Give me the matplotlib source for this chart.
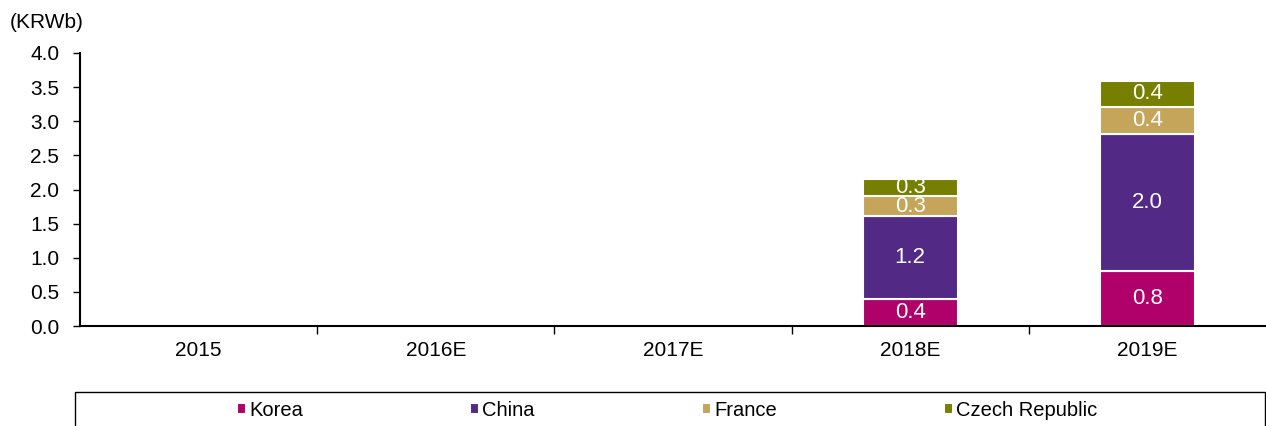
import numpy as np
import matplotlib
matplotlib.use("Agg")
import matplotlib.pyplot as plt
from matplotlib.patches import Rectangle

plt.rcParams["font.family"] = ["Liberation Sans", "DejaVu Sans"]
plt.rcParams["font.size"] = 15

# data (KRWb)
years = ["2015", "2016E", "2017E", "2018E", "2019E"]
korea = [0, 0, 0, 0.40, 0.80]
china = [0, 0, 0, 1.21, 2.02]
france = [0, 0, 0, 0.29, 0.39]
czech = [0, 0, 0, 0.26, 0.38]

series = [("Korea", korea, "#B0006A"),
          ("China", china, "#532986"),
          ("France", france, "#C4A55A"),
          ("Czech Republic", czech, "#767F00")]

fig = plt.figure(figsize=(12.66, 4.26), dpi=100)
ax = fig.add_axes([80/1266, 1-326/426, 1186/1266, (326-53)/426])

x = np.arange(len(years))
bottom = np.zeros(len(years))
handles = []
for name, vals, col in series:
    vals = np.array(vals)
    b = ax.bar(x, vals, width=0.4, bottom=bottom, color=col,
               edgecolor="white", linewidth=1.5, label=name)
    handles.append(b)
    for xi, v, b0 in zip(x, vals, bottom):
        if v > 0:
            ax.text(xi, b0 + v/2, f"{v:.1f}", ha="center", va="center",
                    color="white", fontsize=16)
    bottom += vals

ax.set_xlim(-0.5, len(years) - 0.5)
ax.set_ylim(0, 4.0)
ax.set_yticks(np.arange(0, 4.01, 0.5))
ax.set_yticklabels([f"{v:.1f}" for v in np.arange(0, 4.01, 0.5)])
ax.tick_params(axis="y", length=5, width=1, pad=10, labelsize=15)

ax.set_xticks(np.arange(0.5, len(years) - 0.5, 1.0))
ax.set_xticklabels([])
ax.tick_params(axis="x", which="major", length=6, width=1, direction="out")
ax.set_xticks(x, minor=True)
ax.set_xticklabels(years, minor=True)
ax.tick_params(axis="x", which="minor", length=0, pad=11, labelsize=15)

for s in ["top", "right"]:
    ax.spines[s].set_visible(False)
ax.spines["left"].set_linewidth(1.5)
ax.spines["bottom"].set_linewidth(1.5)

fig.text(10/1266, 1-22/426, "(KRWb)", fontsize=15, va="center", ha="left")

# legend box
fig.patches.append(Rectangle((75/1266, -0.02), 1190/1266, 0.02 + (426-392)/426,
                             transform=fig.transFigure, fill=False,
                             edgecolor="black", linewidth=1))
fig.legend(handles=handles, ncol=4, loc="center left",
           bbox_to_anchor=(227/1266, 1-410/426), frameon=False,
           handlelength=0.45, handleheight=0.45, handletextpad=0.15,
           columnspacing=8.3, fontsize=14.5, borderpad=0)

fig.savefig("out.png", dpi=100)
